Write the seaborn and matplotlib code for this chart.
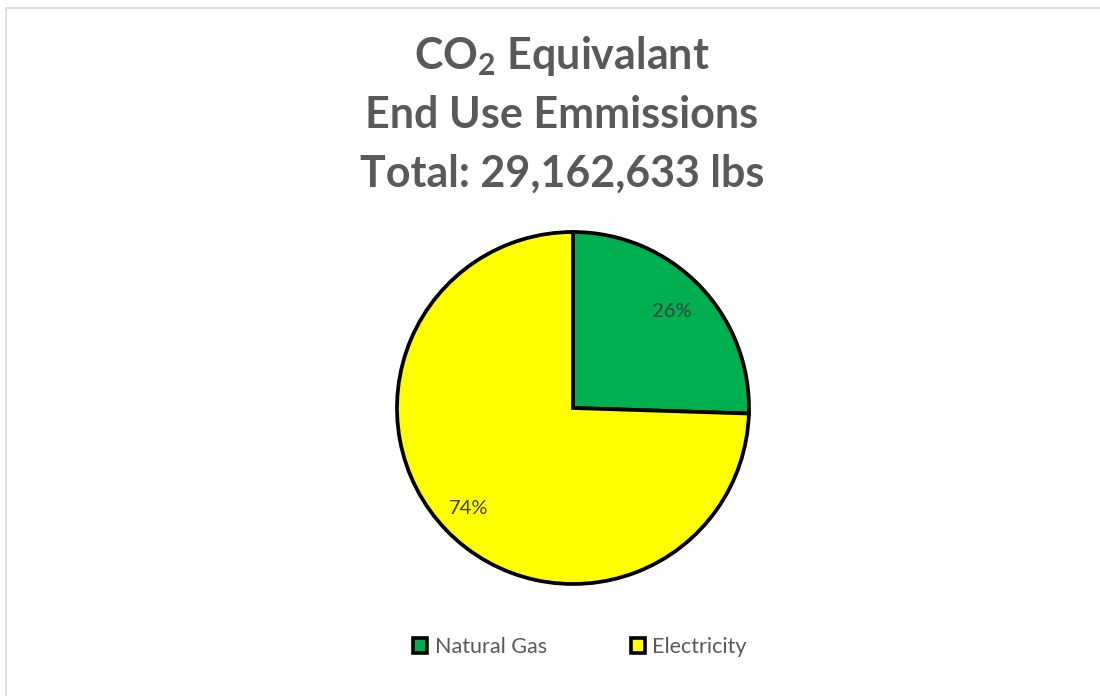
import matplotlib
matplotlib.use("Agg")
import matplotlib.pyplot as plt
import seaborn as sns
from matplotlib.patches import Rectangle, Patch

categories = ["Natural Gas", "Electricity"]
shares = [25.5, 74.5]
colors = ["#00B050", "#FFFF00"]
title_lines = [r"CO$_\mathregular{2}$ Equivalant", "End Use Emmissions", "Total: 29,162,633 lbs"]

sns.set_theme(style="white")
plt.rcParams["font.family"] = ["Lato", "DejaVu Sans"]
plt.rcParams["mathtext.fontset"] = "custom"
plt.rcParams["mathtext.rm"] = "Lato:bold"

fig = plt.figure(figsize=(11, 6.96), dpi=100)
fig.patch.set_facecolor("white")
fig.patches.append(Rectangle((6 / 1100, -0.05), 1.2, 1 - 8 / 696 + 0.05, transform=fig.transFigure,
                             fill=False, edgecolor="#D9D9D9", linewidth=1.2))

for i, line in enumerate(title_lines):
    fig.text(562 / 1100, 1 - (69 + 59 * i) / 696, line, ha="center", va="baseline",
             fontsize=31, fontweight="bold", color="#595959")

r = 176
ax = fig.add_axes([(573 - r) / 1100, (696 - 408 - r) / 696, 2 * r / 1100, 2 * r / 696])
wedges, texts, autotexts = ax.pie(shares, colors=colors, startangle=90, counterclock=False,
                                  autopct="%.0f%%", pctdistance=0.8,
                                  wedgeprops=dict(edgecolor="black", linewidth=2.7),
                                  textprops=dict(fontsize=14.5, color="#404040"))
for t, f in zip(autotexts, [0.98, 1.03]):
    x, y = t.get_position()
    t.set_position((x * f, y * f))
ax.set_xlim(-1, 1)
ax.set_ylim(-1, 1)
ax.set_aspect("equal")
ax.axis("off")

handles = [Patch(facecolor=c, edgecolor="black", linewidth=2.6) for c in colors]
fig.legend(handles, categories, loc="center", bbox_to_anchor=(580 / 1100, 1 - 647 / 696), ncol=2,
           frameon=False, fontsize=15.5, labelcolor="#595959", handlelength=0.65, handleheight=0.65,
           handletextpad=0.35, columnspacing=3.9)

fig.savefig("out.png", dpi=100)
